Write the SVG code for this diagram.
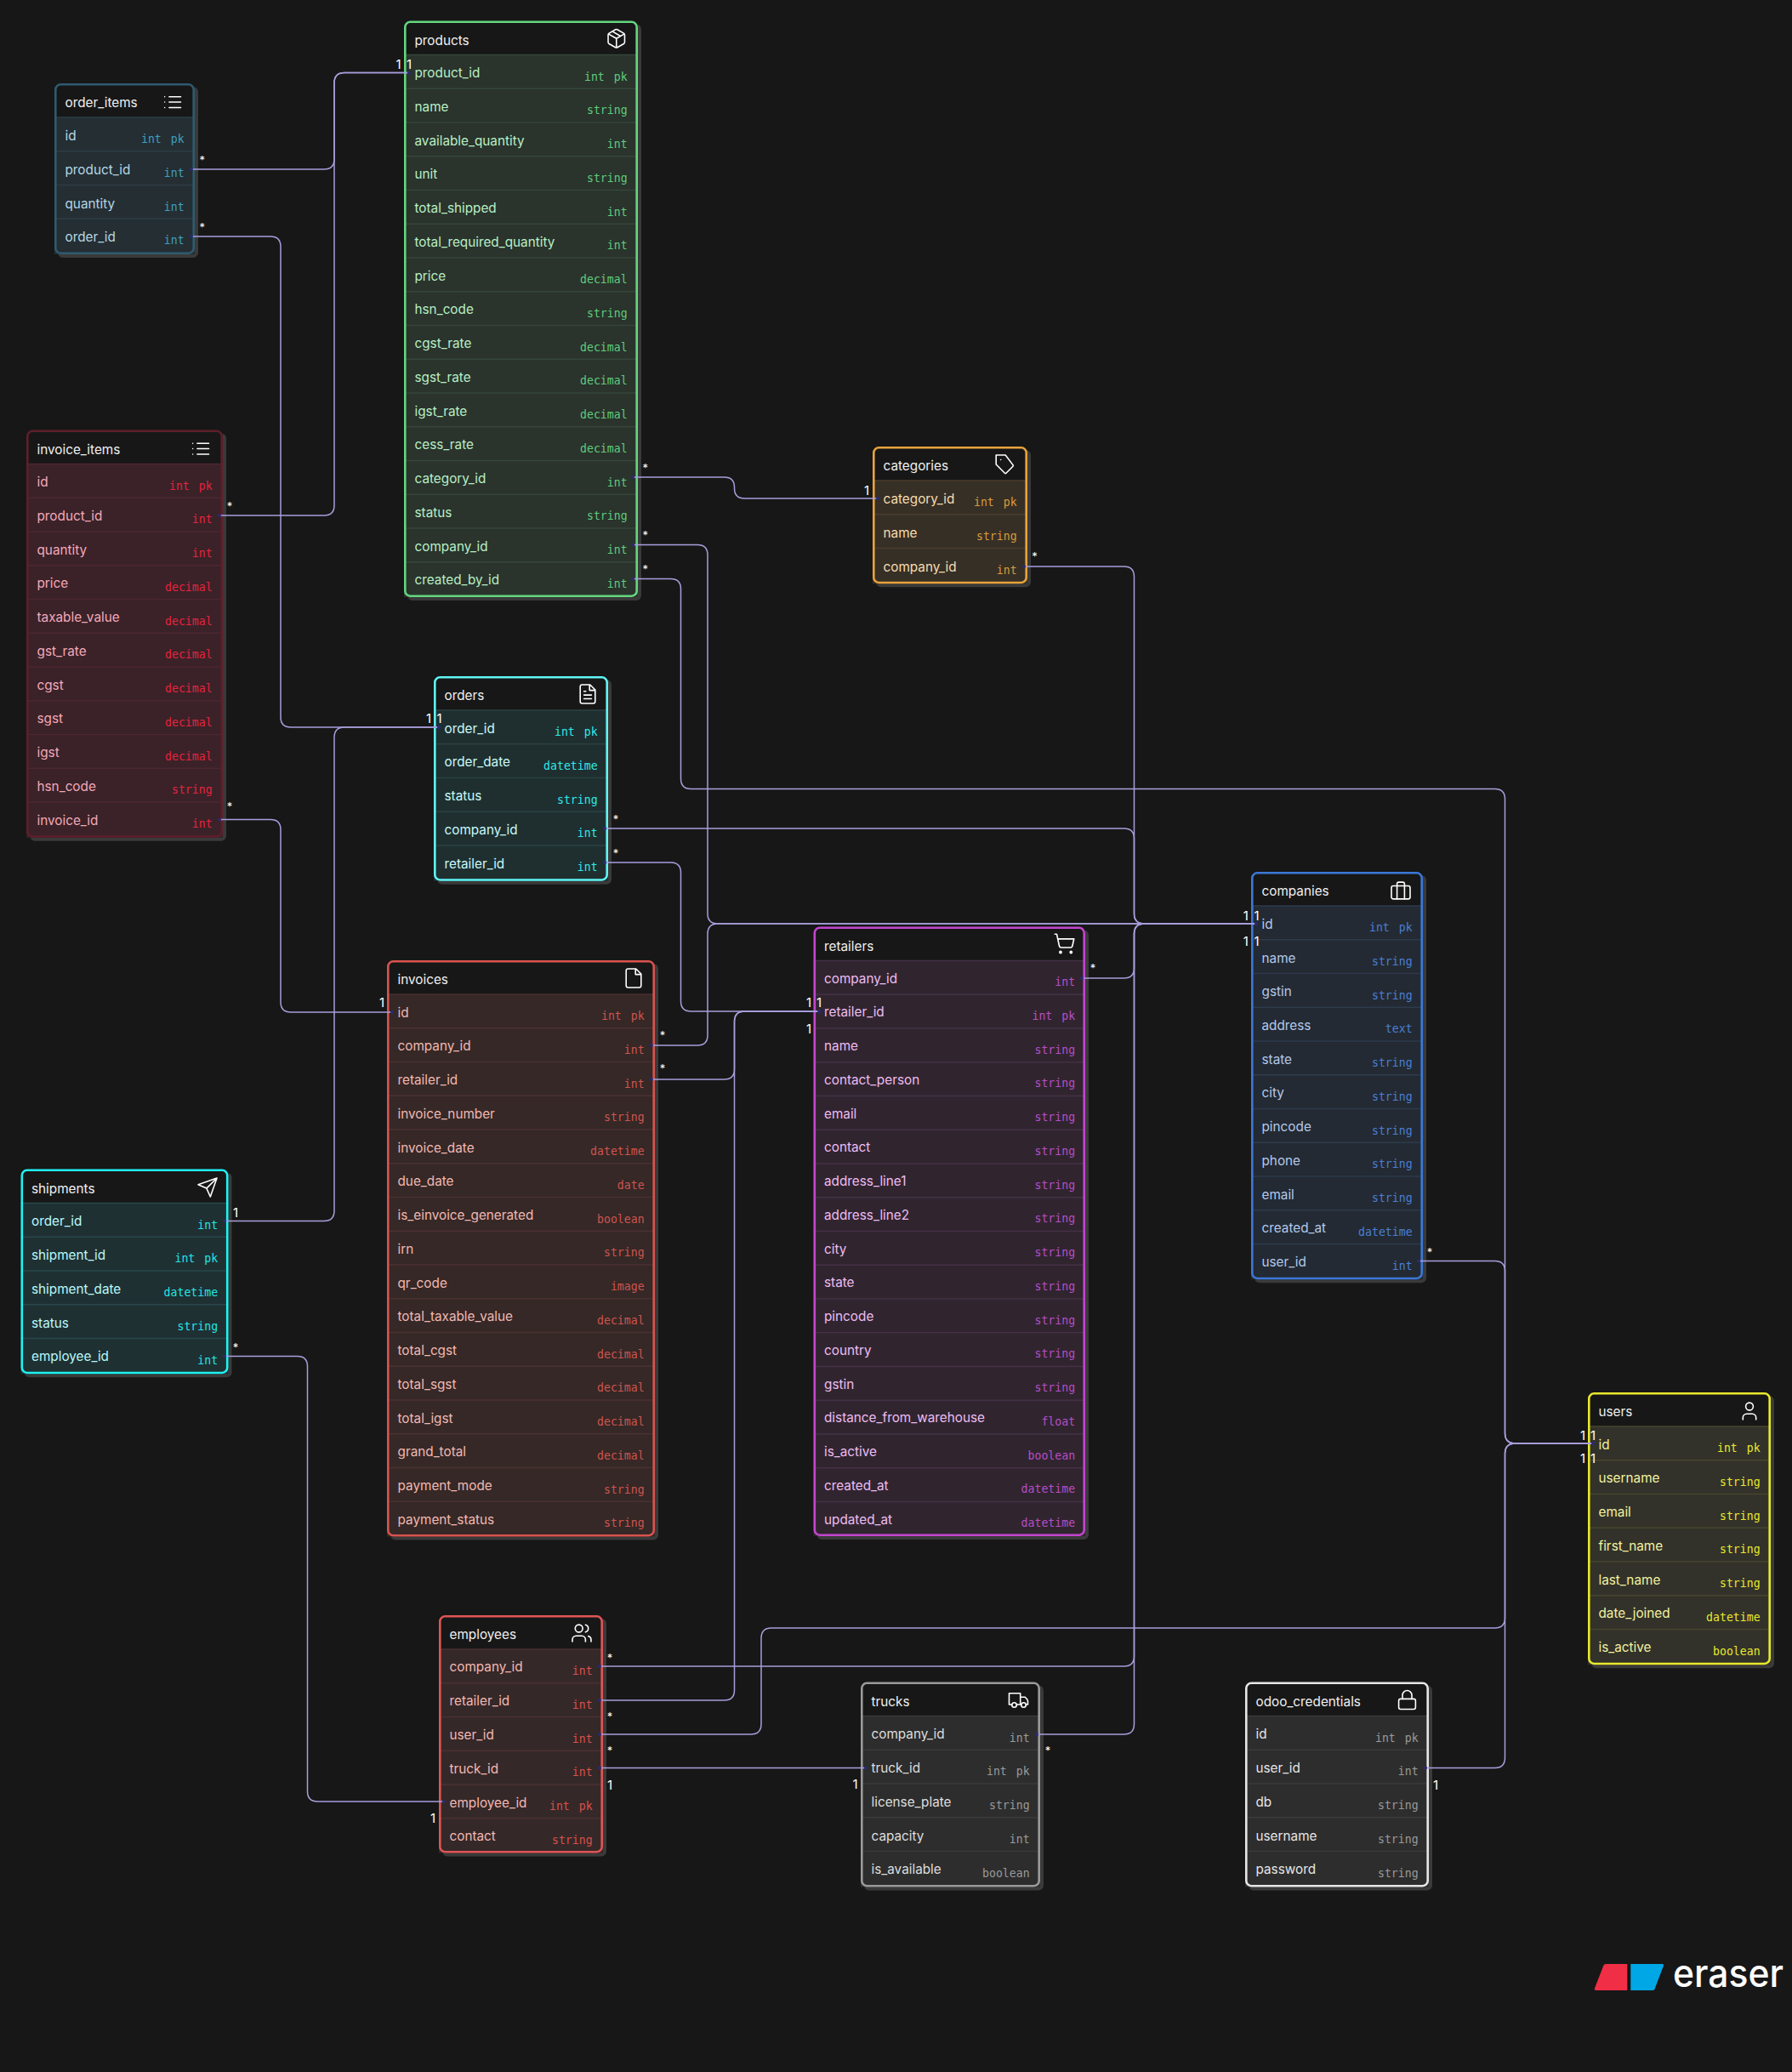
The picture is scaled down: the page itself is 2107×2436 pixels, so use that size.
<svg xmlns="http://www.w3.org/2000/svg" width="2107" height="2436" viewBox="0 0 2107 2436">
<style>
text{font-family:Inter,"Liberation Sans",sans-serif}
.n{font-size:15.300px;fill:var(--n)}
.h{font-size:15.300px;fill:#f0f0f0}
.t{font-family:"DejaVu Sans Mono","Liberation Mono",monospace;font-size:13.200px;fill:var(--t);text-anchor:end;word-spacing:3px;transform:translate(.6px,-.5px)}
.sh{fill:#3a3a3a}
.bg{fill:#171717}
.row{fill:var(--r)}
.sep{stroke:var(--s);stroke-width:1.5;fill:none}
.bd{stroke:var(--b);stroke-width:2.600;fill:none}
.ic{stroke:#fff;stroke-width:1.450;fill:none;stroke-linecap:round;stroke-linejoin:round}
.cn{stroke:#a79fdc;stroke-width:1.5;fill:none;marker-start:url(#dot);marker-end:url(#dot)}
.one{font-size:15px;fill:#fff;text-anchor:middle}
.many{font-size:13px;fill:#fff;text-anchor:middle}
.logo{font-size:45px;font-weight:500;fill:#fff}
.order_items{--b:#2f5b70;--r:#242e33;--s:#2d3c44;--n:#b5d6e3;--t:#3f9fc0}
.invoice_items{--b:#5e1f2b;--r:#3a2228;--s:#4d2630;--n:#f5a8b8;--t:#e6223f}
.products{--b:#63d67f;--r:#2a332c;--s:#354639;--n:#b8efc5;--t:#5fcc7c}
.categories{--b:#e8a33d;--r:#362f26;--s:#4a3d2c;--n:#f6dcb0;--t:#d99a3a}
.orders{--b:#5ff5f5;--r:#1f2f30;--s:#2b4142;--n:#c8fafa;--t:#2fe8e8}
.invoices{--b:#d9534f;--r:#352826;--s:#4a3130;--n:#f1b8b3;--t:#cf5450}
.retailers{--b:#c345d0;--r:#30252f;--s:#443045;--n:#eebcf2;--t:#b84dc6}
.companies{--b:#3b78d8;--r:#232a33;--s:#2d3a4d;--n:#b4c8ea;--t:#4a7fd4}
.users{--b:#e8e82e;--r:#32322a;--s:#46462e;--n:#f2f2a0;--t:#e8e82e}
.shipments{--b:#1ff2f2;--r:#1f3033;--s:#28474a;--n:#b8fafa;--t:#22e6e6}
.employees{--b:#e05555;--r:#352828;--s:#4a3030;--n:#f2b8b4;--t:#d9504c}
.trucks{--b:#9a9a9a;--r:#2d2d2d;--s:#3a3a3a;--n:#dedede;--t:#9a9a9a}
.odoo{--b:#e6e6e6;--r:#2d2d2d;--s:#3a3a3a;--n:#e6e6e6;--t:#9a9a9a}
</style>
<defs>
<marker id="dot" viewBox="0 0 6 6" refX="3" refY="3" markerWidth="4" markerHeight="4" markerUnits="userSpaceOnUse"><circle cx="3" cy="3" r="3" fill="#2b2a70"/></marker>
<path id="i-list" d="M8 6h13M8 12h13M8 18h13M3 6h.01M3 12h.01M3 18h.01"/>
<path id="i-file" d="M14.500 2H6a2 2 0 0 0-2 2v16a2 2 0 0 0 2 2h12a2 2 0 0 0 2-2V7.500L14.500 2zM14 2v6h6"/>
</defs>
<rect width="2107" height="2436" fill="#171717"/>

<g id="order_items" class="order_items" transform="translate(64,98)">
<rect class="sh" x="4" y="4" width="165" height="201" rx="6"/><rect class="bg" width="165" height="201" rx="6"/><path class="row" d="M0 40H165V201H0Z"/>
<path class="sep" d="M0 40H165M0 79.750H165M0 119.500H165M0 159.250H165"/>
<text class="h" x="12.500" y="28">order_items</text>
<text class="n" x="12.500" y="67">id</text><text class="t" x="152" y="70.500">int pk</text>
<text class="n" x="12.500" y="106.750">product_id</text><text class="t" x="152" y="110.250">int</text>
<text class="n" x="12.500" y="146.500">quantity</text><text class="t" x="152" y="150">int</text>
<text class="n" x="12.500" y="186.250">order_id</text><text class="t" x="152" y="189.750">int</text>
<use class="ic" href="#i-list" transform="translate(126.500,9.500) scale(1.05)"/>
<rect class="bd" x="1.300" y="1.300" width="162.400" height="198.400" rx="6"/>
</g>

<g id="invoice_items" class="invoice_items" transform="translate(31,505.500)">
<rect class="sh" x="4" y="4" width="231" height="479.250" rx="6"/><rect class="bg" width="231" height="479.250" rx="6"/><path class="row" d="M0 40H231V479.250H0Z"/>
<path class="sep" d="M0 40H231M0 79.750H231M0 119.500H231M0 159.250H231M0 199H231M0 238.750H231M0 278.500H231M0 318.250H231M0 358H231M0 397.750H231M0 437.500H231"/>
<text class="h" x="12.500" y="28">invoice_items</text>
<text class="n" x="12.500" y="66.500">id</text><text class="t" x="218" y="70.500">int pk</text>
<text class="n" x="12.500" y="106.250">product_id</text><text class="t" x="218" y="110.250">int</text>
<text class="n" x="12.500" y="146">quantity</text><text class="t" x="218" y="150">int</text>
<text class="n" x="12.500" y="185.750">price</text><text class="t" x="218" y="189.750">decimal</text>
<text class="n" x="12.500" y="225.500">taxable_value</text><text class="t" x="218" y="229.500">decimal</text>
<text class="n" x="12.500" y="265.250">gst_rate</text><text class="t" x="218" y="269.250">decimal</text>
<text class="n" x="12.500" y="305">cgst</text><text class="t" x="218" y="309">decimal</text>
<text class="n" x="12.500" y="344.750">sgst</text><text class="t" x="218" y="348.750">decimal</text>
<text class="n" x="12.500" y="384.500">igst</text><text class="t" x="218" y="388.500">decimal</text>
<text class="n" x="12.500" y="424.250">hsn_code</text><text class="t" x="218" y="428.250">string</text>
<text class="n" x="12.500" y="464">invoice_id</text><text class="t" x="218" y="468">int</text>
<use class="ic" href="#i-list" transform="translate(192.500,9.500) scale(1.05)"/>
<rect class="bd" x="1.300" y="1.300" width="228.400" height="476.650" rx="6"/>
</g>

<g id="products" class="products" transform="translate(475,24.500)">
<rect class="sh" x="4" y="4" width="275" height="677.500" rx="6"/><rect class="bg" width="275" height="677.500" rx="6"/><path class="row" d="M0 40H275V677.500H0Z"/>
<path class="sep" d="M0 40H275M0 79.750H275M0 119.500H275M0 159.250H275M0 199H275M0 238.750H275M0 278.500H275M0 318.250H275M0 358H275M0 397.750H275M0 437.500H275M0 477.250H275M0 517H275M0 556.750H275M0 596.500H275M0 636.250H275"/>
<text class="h" x="12.500" y="28">products</text>
<text class="n" x="12.500" y="66.500">product_id</text><text class="t" x="262" y="70.500">int pk</text>
<text class="n" x="12.500" y="106.250">name</text><text class="t" x="262" y="110.250">string</text>
<text class="n" x="12.500" y="146">available_quantity</text><text class="t" x="262" y="150">int</text>
<text class="n" x="12.500" y="185.750">unit</text><text class="t" x="262" y="189.750">string</text>
<text class="n" x="12.500" y="225.500">total_shipped</text><text class="t" x="262" y="229.500">int</text>
<text class="n" x="12.500" y="265.250">total_required_quantity</text><text class="t" x="262" y="269.250">int</text>
<text class="n" x="12.500" y="305">price</text><text class="t" x="262" y="309">decimal</text>
<text class="n" x="12.500" y="344.750">hsn_code</text><text class="t" x="262" y="348.750">string</text>
<text class="n" x="12.500" y="384.500">cgst_rate</text><text class="t" x="262" y="388.500">decimal</text>
<text class="n" x="12.500" y="424.250">sgst_rate</text><text class="t" x="262" y="428.250">decimal</text>
<text class="n" x="12.500" y="464">igst_rate</text><text class="t" x="262" y="468">decimal</text>
<text class="n" x="12.500" y="503.750">cess_rate</text><text class="t" x="262" y="507.750">decimal</text>
<text class="n" x="12.500" y="543.500">category_id</text><text class="t" x="262" y="547.500">int</text>
<text class="n" x="12.500" y="583.250">status</text><text class="t" x="262" y="587.250">string</text>
<text class="n" x="12.500" y="623">company_id</text><text class="t" x="262" y="627">int</text>
<text class="n" x="12.500" y="662.750">created_by_id</text><text class="t" x="262" y="666.750">int</text>
<path class="ic" transform="translate(236.800,7.800) scale(1.08)" d="M21 16V8a2 2 0 0 0-1-1.730l-7-4a2 2 0 0 0-2 0l-7 4A2 2 0 0 0 3 8v8a2 2 0 0 0 1 1.730l7 4a2 2 0 0 0 2 0l7-4A2 2 0 0 0 21 16zM3.300 7 12 12l8.700-5M12 22V12M7.500 4.270l9 5.150"/>
<rect class="bd" x="1.300" y="1.300" width="272.400" height="674.900" rx="6"/>
</g>

<g id="categories" class="categories" transform="translate(1026,525)">
<rect class="sh" x="4" y="4" width="182" height="161.250" rx="6"/><rect class="bg" width="182" height="161.250" rx="6"/><path class="row" d="M0 40H182V161.250H0Z"/>
<path class="sep" d="M0 40H182M0 79.750H182M0 119.500H182"/>
<text class="h" x="12.500" y="28">categories</text>
<text class="n" x="12.500" y="67">category_id</text><text class="t" x="169" y="70.500">int pk</text>
<text class="n" x="12.500" y="106.750">name</text><text class="t" x="169" y="110.250">string</text>
<text class="n" x="12.500" y="146.500">company_id</text><text class="t" x="169" y="150">int</text>
<path class="ic" transform="translate(143,7.800) scale(1.1)" d="M12 2H2v10l9.290 9.290a1 1 0 0 0 1.410 0l7.300-7.300a1 1 0 0 0 0-1.410L12 2zM7 7h.01"/>
<rect class="bd" x="1.300" y="1.300" width="179.400" height="158.650" rx="6"/>
</g>

<g id="orders" class="orders" transform="translate(510,795)">
<rect class="sh" x="4" y="4" width="205" height="240.750" rx="6"/><rect class="bg" width="205" height="240.750" rx="6"/><path class="row" d="M0 40H205V240.750H0Z"/>
<path class="sep" d="M0 40H205M0 79.750H205M0 119.500H205M0 159.250H205M0 199H205"/>
<text class="h" x="12.500" y="28">orders</text>
<text class="n" x="12.500" y="66.500">order_id</text><text class="t" x="192" y="70.500">int pk</text>
<text class="n" x="12.500" y="106.250">order_date</text><text class="t" x="192" y="110.250">datetime</text>
<text class="n" x="12.500" y="146">status</text><text class="t" x="192" y="150">string</text>
<text class="n" x="12.500" y="185.750">company_id</text><text class="t" x="192" y="189.750">int</text>
<text class="n" x="12.500" y="225.500">retailer_id</text><text class="t" x="192" y="229.500">int</text>
<path class="ic" transform="translate(167.800,7.800) scale(1.1)" d="M14.500 2H6a2 2 0 0 0-2 2v16a2 2 0 0 0 2 2h12a2 2 0 0 0 2-2V7.500L14.500 2zM14 2v6h6M16 13H8M16 17H8M10 9H8"/>
<rect class="bd" x="1.300" y="1.300" width="202.400" height="238.150" rx="6"/>
</g>

<g id="invoices" class="invoices" transform="translate(455,1129)">
<rect class="sh" x="4" y="4" width="315" height="677.500" rx="6"/><rect class="bg" width="315" height="677.500" rx="6"/><path class="row" d="M0 40H315V677.500H0Z"/>
<path class="sep" d="M0 40H315M0 79.750H315M0 119.500H315M0 159.250H315M0 199H315M0 238.750H315M0 278.500H315M0 318.250H315M0 358H315M0 397.750H315M0 437.500H315M0 477.250H315M0 517H315M0 556.750H315M0 596.500H315M0 636.250H315"/>
<text class="h" x="12.500" y="28">invoices</text>
<text class="n" x="12.500" y="66.500">id</text><text class="t" x="302" y="70.500">int pk</text>
<text class="n" x="12.500" y="106.250">company_id</text><text class="t" x="302" y="110.250">int</text>
<text class="n" x="12.500" y="146">retailer_id</text><text class="t" x="302" y="150">int</text>
<text class="n" x="12.500" y="185.750">invoice_number</text><text class="t" x="302" y="189.750">string</text>
<text class="n" x="12.500" y="225.500">invoice_date</text><text class="t" x="302" y="229.500">datetime</text>
<text class="n" x="12.500" y="265.250">due_date</text><text class="t" x="302" y="269.250">date</text>
<text class="n" x="12.500" y="305">is_einvoice_generated</text><text class="t" x="302" y="309">boolean</text>
<text class="n" x="12.500" y="344.750">irn</text><text class="t" x="302" y="348.750">string</text>
<text class="n" x="12.500" y="384.500">qr_code</text><text class="t" x="302" y="388.500">image</text>
<text class="n" x="12.500" y="424.250">total_taxable_value</text><text class="t" x="302" y="428.250">decimal</text>
<text class="n" x="12.500" y="464">total_cgst</text><text class="t" x="302" y="468">decimal</text>
<text class="n" x="12.500" y="503.750">total_sgst</text><text class="t" x="302" y="507.750">decimal</text>
<text class="n" x="12.500" y="543.500">total_igst</text><text class="t" x="302" y="547.500">decimal</text>
<text class="n" x="12.500" y="583.250">grand_total</text><text class="t" x="302" y="587.250">decimal</text>
<text class="n" x="12.500" y="623">payment_mode</text><text class="t" x="302" y="627">string</text>
<text class="n" x="12.500" y="662.750">payment_status</text><text class="t" x="302" y="666.750">string</text>
<use class="ic" href="#i-file" transform="translate(276.800,7.800) scale(1.1)"/>
<rect class="bd" x="1.300" y="1.300" width="312.400" height="674.900" rx="6"/>
</g>

<g id="retailers" class="retailers" transform="translate(956.500,1089.500)">
<rect class="sh" x="4" y="4" width="319.500" height="716.500" rx="6"/><rect class="bg" width="319.500" height="716.500" rx="6"/><path class="row" d="M0 40H319.500V716.500H0Z"/>
<path class="sep" d="M0 40H319.500M0 79.750H319.500M0 119.500H319.500M0 159.250H319.500M0 199H319.500M0 238.750H319.500M0 278.500H319.500M0 318.250H319.500M0 358H319.500M0 397.750H319.500M0 437.500H319.500M0 477.250H319.500M0 517H319.500M0 556.750H319.500M0 596.500H319.500M0 636.250H319.500M0 676H319.500"/>
<text class="h" x="12.500" y="28">retailers</text>
<text class="n" x="12.500" y="66">company_id</text><text class="t" x="307" y="70">int</text>
<text class="n" x="12.500" y="105.750">retailer_id</text><text class="t" x="307" y="109.750">int pk</text>
<text class="n" x="12.500" y="145.500">name</text><text class="t" x="307" y="149.500">string</text>
<text class="n" x="12.500" y="185.250">contact_person</text><text class="t" x="307" y="189.250">string</text>
<text class="n" x="12.500" y="225">email</text><text class="t" x="307" y="229">string</text>
<text class="n" x="12.500" y="264.750">contact</text><text class="t" x="307" y="268.750">string</text>
<text class="n" x="12.500" y="304.500">address_line1</text><text class="t" x="307" y="308.500">string</text>
<text class="n" x="12.500" y="344.250">address_line2</text><text class="t" x="307" y="348.250">string</text>
<text class="n" x="12.500" y="384">city</text><text class="t" x="307" y="388">string</text>
<text class="n" x="12.500" y="423.750">state</text><text class="t" x="307" y="427.750">string</text>
<text class="n" x="12.500" y="463.500">pincode</text><text class="t" x="307" y="467.500">string</text>
<text class="n" x="12.500" y="503.250">country</text><text class="t" x="307" y="507.250">string</text>
<text class="n" x="12.500" y="543">gstin</text><text class="t" x="307" y="547">string</text>
<text class="n" x="12.500" y="582.750">distance_from_warehouse</text><text class="t" x="307" y="586.750">float</text>
<text class="n" x="12.500" y="622.500">is_active</text><text class="t" x="307" y="626.500">boolean</text>
<text class="n" x="12.500" y="662.250">created_at</text><text class="t" x="307" y="666.250">datetime</text>
<text class="n" x="12.500" y="702">updated_at</text><text class="t" x="307" y="706">datetime</text>
<g class="ic" transform="translate(281.500,6.500) scale(1.12)"><circle cx="8" cy="21" r="1"/><circle cx="19" cy="21" r="1"/><path d="M2.050 2.050h2l2.660 12.420a2 2 0 0 0 2 1.580h9.780a2 2 0 0 0 1.950-1.570l1.650-7.430H5.120"/></g>
<rect class="bd" x="1.300" y="1.300" width="316.900" height="713.900" rx="6"/>
</g>

<g id="companies" class="companies" transform="translate(1471,1025)">
<rect class="sh" x="4" y="4" width="202" height="479.250" rx="6"/><rect class="bg" width="202" height="479.250" rx="6"/><path class="row" d="M0 40H202V479.250H0Z"/>
<path class="sep" d="M0 40H202M0 79.750H202M0 119.500H202M0 159.250H202M0 199H202M0 238.750H202M0 278.500H202M0 318.250H202M0 358H202M0 397.750H202M0 437.500H202"/>
<text class="h" x="12.500" y="28">companies</text>
<text class="n" x="12.500" y="66.500">id</text><text class="t" x="189" y="70.500">int pk</text>
<text class="n" x="12.500" y="106.500">name</text><text class="t" x="189" y="110.250">string</text>
<text class="n" x="12.500" y="146.250">gstin</text><text class="t" x="189" y="150">string</text>
<text class="n" x="12.500" y="185.750">address</text><text class="t" x="189" y="189.750">text</text>
<text class="n" x="12.500" y="225.500">state</text><text class="t" x="189" y="229.500">string</text>
<text class="n" x="12.500" y="265.250">city</text><text class="t" x="189" y="269.250">string</text>
<text class="n" x="12.500" y="305">pincode</text><text class="t" x="189" y="309">string</text>
<text class="n" x="12.500" y="344.750">phone</text><text class="t" x="189" y="348.750">string</text>
<text class="n" x="12.500" y="384.500">email</text><text class="t" x="189" y="388.500">string</text>
<text class="n" x="12.500" y="424.250">created_at</text><text class="t" x="189" y="428.250">datetime</text>
<text class="n" x="12.500" y="464">user_id</text><text class="t" x="189" y="468">int</text>
<g class="ic" transform="translate(162.800,8.800) scale(1.1)"><rect x="2" y="7" width="20" height="14" rx="2"/><path d="M16 21V5a2 2 0 0 0-2-2h-4a2 2 0 0 0-2 2v16"/></g>
<rect class="bd" x="1.300" y="1.300" width="199.400" height="476.650" rx="6"/>
</g>

<g id="users" class="users" transform="translate(1867,1637)">
<rect class="sh" x="4" y="4" width="215" height="320.250" rx="6"/><rect class="bg" width="215" height="320.250" rx="6"/><path class="row" d="M0 40H215V320.250H0Z"/>
<path class="sep" d="M0 40H215M0 79.750H215M0 119.500H215M0 159.250H215M0 199H215M0 238.750H215M0 278.500H215"/>
<text class="h" x="12.500" y="28">users</text>
<text class="n" x="12.500" y="66.500">id</text><text class="t" x="202" y="70.500">int pk</text>
<text class="n" x="12.500" y="106.250">username</text><text class="t" x="202" y="110.250">string</text>
<text class="n" x="12.500" y="146">email</text><text class="t" x="202" y="150">string</text>
<text class="n" x="12.500" y="185.750">first_name</text><text class="t" x="202" y="189.750">string</text>
<text class="n" x="12.500" y="225.500">last_name</text><text class="t" x="202" y="229.500">string</text>
<text class="n" x="12.500" y="265.250">date_joined</text><text class="t" x="202" y="269.250">datetime</text>
<text class="n" x="12.500" y="305">is_active</text><text class="t" x="202" y="309">boolean</text>
<g class="ic" transform="translate(176.800,8.800) scale(1.1)"><path d="M19 21v-2a4 4 0 0 0-4-4H9a4 4 0 0 0-4 4v2"/><circle cx="12" cy="7" r="4"/></g>
<rect class="bd" x="1.300" y="1.300" width="212.400" height="317.650" rx="6"/>
</g>

<g id="shipments" class="shipments" transform="translate(24.500,1374.500)">
<rect class="sh" x="4" y="4" width="244" height="240.750" rx="6"/><rect class="bg" width="244" height="240.750" rx="6"/><path class="row" d="M0 40H244V240.750H0Z"/>
<path class="sep" d="M0 40H244M0 79.750H244M0 119.500H244M0 159.250H244M0 199H244"/>
<text class="h" x="12.500" y="28">shipments</text>
<text class="n" x="12.500" y="66.500">order_id</text><text class="t" x="231" y="70.500">int</text>
<text class="n" x="12.500" y="106.250">shipment_id</text><text class="t" x="231" y="110.250">int pk</text>
<text class="n" x="12.500" y="146">shipment_date</text><text class="t" x="231" y="150">datetime</text>
<text class="n" x="12.500" y="186">status</text><text class="t" x="231" y="189.750">string</text>
<text class="n" x="12.500" y="225.750">employee_id</text><text class="t" x="231" y="229.500">int</text>
<path class="ic" transform="translate(206.300,8.300) scale(1.1)" d="M22 2 11 13M22 2l-7 20-4-9-9-4 20-7z"/>
<rect class="bd" x="1.300" y="1.300" width="241.400" height="238.150" rx="6"/>
</g>

<g id="employees" class="employees" transform="translate(516,1899)">
<rect class="sh" x="4" y="4" width="193" height="279.500" rx="6"/><rect class="bg" width="193" height="279.500" rx="6"/><path class="row" d="M0 40H193V279.500H0Z"/>
<path class="sep" d="M0 40H193M0 79.750H193M0 119.500H193M0 159.250H193M0 199H193M0 238.750H193"/>
<text class="h" x="12.500" y="28">employees</text>
<text class="n" x="12.500" y="66">company_id</text><text class="t" x="180" y="70">int</text>
<text class="n" x="12.500" y="106.250">retailer_id</text><text class="t" x="180" y="110.250">int</text>
<text class="n" x="12.500" y="146">user_id</text><text class="t" x="180" y="150">int</text>
<text class="n" x="12.500" y="185.750">truck_id</text><text class="t" x="180" y="189.750">int</text>
<text class="n" x="12.500" y="225.500">employee_id</text><text class="t" x="180" y="229.500">int pk</text>
<text class="n" x="12.500" y="265.250">contact</text><text class="t" x="180" y="269.250">string</text>
<g class="ic" transform="translate(154.800,7.800) scale(1.1)"><path d="M16 21v-2a4 4 0 0 0-4-4H6a4 4 0 0 0-4 4v2M22 21v-2a4 4 0 0 0-3-3.870M16 3.130a4 4 0 0 1 0 7.750"/><circle cx="9" cy="7" r="4"/></g>
<rect class="bd" x="1.300" y="1.300" width="190.400" height="276.900" rx="6"/>
</g>

<g id="trucks" class="trucks" transform="translate(1012,1977.500)">
<rect class="sh" x="4" y="4" width="211" height="241" rx="6"/><rect class="bg" width="211" height="241" rx="6"/><path class="row" d="M0 40H211V241H0Z"/>
<path class="sep" d="M0 40H211M0 79.750H211M0 119.500H211M0 159.250H211M0 199H211"/>
<text class="h" x="12.500" y="28">trucks</text>
<text class="n" x="12.500" y="66.750">company_id</text><text class="t" x="198" y="70.500">int</text>
<text class="n" x="12.500" y="106.500">truck_id</text><text class="t" x="198" y="110.250">int pk</text>
<text class="n" x="12.500" y="146">license_plate</text><text class="t" x="198" y="150">string</text>
<text class="n" x="12.500" y="186">capacity</text><text class="t" x="198" y="189.750">int</text>
<text class="n" x="12.500" y="225.500">is_available</text><text class="t" x="198" y="229.500">boolean</text>
<g class="ic" transform="translate(172.300,7.800) scale(1.1)"><path d="M10 17h4V5H2v12h3M20 17h2v-3.340a4 4 0 0 0-1.170-2.830L19 9h-5M14 17h1"/><circle cx="7.500" cy="17.500" r="2.500"/><circle cx="17.500" cy="17.500" r="2.500"/></g>
<rect class="bd" x="1.300" y="1.300" width="208.400" height="238.400" rx="6"/>
</g>

<g id="odoo_credentials" class="odoo" transform="translate(1464,1977.500)">
<rect class="sh" x="4" y="4" width="216" height="241" rx="6"/><rect class="bg" width="216" height="241" rx="6"/><path class="row" d="M0 40H216V241H0Z"/>
<path class="sep" d="M0 40H216M0 79.750H216M0 119.500H216M0 159.250H216M0 199H216"/>
<text class="h" x="12.500" y="28">odoo_credentials</text>
<text class="n" x="12.500" y="66.750">id</text><text class="t" x="203" y="70.500">int pk</text>
<text class="n" x="12.500" y="106.500">user_id</text><text class="t" x="203" y="110.250">int</text>
<text class="n" x="12.500" y="146">db</text><text class="t" x="203" y="150">string</text>
<text class="n" x="12.500" y="186">username</text><text class="t" x="203" y="189.750">string</text>
<text class="n" x="12.500" y="225.500">password</text><text class="t" x="203" y="229.500">string</text>
<g class="ic" transform="translate(177.300,7.800) scale(1.1)"><rect x="3" y="11" width="18" height="11" rx="2"/><path d="M7 11V7a5 5 0 0 1 10 0v4"/></g>
<rect class="bd" x="1.300" y="1.300" width="213.400" height="238.400" rx="6"/>
</g>

<g id="connectors">
<path class="cn" d="M225 199H381Q393 199 393 187V97.500Q393 85.500 405 85.500H481"/>
<path class="cn" d="M258 606H381Q393 606 393 594V97.500Q393 85.500 405 85.500H481"/>
<path class="cn" d="M225 278H318Q330 278 330 290V843Q330 855 342 855H516"/>
<path class="cn" d="M264 1435.500H381Q393 1435.500 393 1423.500V867Q393 855 405 855H516"/>
<path class="cn" d="M744 561H851.500Q863.500 561 863.500 573V574Q863.500 586 875.500 586H1032"/>
<path class="cn" d="M744 640.500H820Q832 640.500 832 652.500V1074Q832 1086 844 1086H1477"/>
<path class="cn" d="M744 680.500H788.500Q800.500 680.500 800.500 692.500V915.500Q800.500 927.500 812.500 927.500H1757.500Q1769.500 927.500 1769.500 939.500V1685Q1769.500 1697 1781.500 1697H1873"/>
<path class="cn" d="M1204 666H1321.500Q1333.500 666 1333.500 678V1074Q1333.500 1086 1345.500 1086H1477"/>
<path class="cn" d="M711 974H1321.500Q1333.500 974 1333.500 986V1074Q1333.500 1086 1345.500 1086H1477"/>
<path class="cn" d="M711 1014H788.500Q800.500 1014 800.500 1026V1177Q800.500 1189 812.500 1189H963"/>
<path class="cn" d="M258 963.500H318Q330 963.500 330 975.500V1178Q330 1190 342 1190H461"/>
<path class="cn" d="M766 1229H820Q832 1229 832 1217V1098Q832 1086 844 1086H1477"/>
<path class="cn" d="M766 1269H851.500Q863.500 1269 863.500 1257V1201Q863.500 1189 875.500 1189H963"/>
<path class="cn" d="M1272 1150H1321.500Q1333.500 1150 1333.500 1138V1098Q1333.500 1086 1345.500 1086H1477"/>
<path class="cn" d="M705 1959H1321.500Q1333.500 1959 1333.500 1947V1098Q1333.500 1086 1345.500 1086H1477"/>
<path class="cn" d="M705 1999H851.500Q863.500 1999 863.500 1987V1201Q863.500 1189 875.500 1189H963"/>
<path class="cn" d="M705 2039H883Q895 2039 895 2027V1926Q895 1914 907 1914H1757.500Q1769.500 1914 1769.500 1902V1709Q1769.500 1697 1781.500 1697H1873"/>
<path class="cn" d="M705 2078.500H1018"/>
<path class="cn" d="M264 1594.500H349.500Q361.500 1594.500 361.500 1606.500V2106Q361.500 2118 373.500 2118H522"/>
<path class="cn" d="M1219 2039H1321.500Q1333.500 2039 1333.500 2027V1098Q1333.500 1086 1345.500 1086H1477"/>
<path class="cn" d="M1676 2078.500H1757.500Q1769.500 2078.500 1769.500 2066.500V1709Q1769.500 1697 1781.500 1697H1873"/>
<path class="cn" d="M1668 1482.500H1757.500Q1769.500 1482.500 1769.500 1494.500V1685Q1769.500 1697 1781.500 1697H1873"/>
<text class="one" x="468.500" y="80.500">1</text><text class="one" x="481" y="80.500">1</text>
<text class="many" x="237.700" y="193">*</text><text class="many" x="237.700" y="272">*</text><text class="many" x="270" y="600">*</text><text class="many" x="270" y="953">*</text>
<text class="many" x="758.700" y="555">*</text><text class="many" x="758.700" y="634">*</text><text class="many" x="758.700" y="674">*</text>
<text class="one" x="1019" y="581.500">1</text><text class="many" x="1216.500" y="659">*</text>
<text class="one" x="504" y="849.500">1</text><text class="one" x="516.500" y="849.500">1</text>
<text class="many" x="724" y="968">*</text><text class="many" x="724" y="1008">*</text>
<text class="one" x="449" y="1184">1</text><text class="many" x="779" y="1222">*</text><text class="many" x="779" y="1261">*</text>
<text class="one" x="951" y="1184">1</text><text class="one" x="963" y="1184">1</text><text class="one" x="951" y="1214.500">1</text><text class="many" x="1285" y="1143">*</text>
<text class="one" x="1464.700" y="1081.500">1</text><text class="one" x="1477.500" y="1081.500">1</text><text class="one" x="1464.700" y="1111.500">1</text><text class="one" x="1477.500" y="1111.500">1</text><text class="many" x="1681" y="1476.500">*</text>
<text class="one" x="1861" y="1692.500">1</text><text class="one" x="1873" y="1692.500">1</text><text class="one" x="1861" y="1720">1</text><text class="one" x="1873" y="1720">1</text>
<text class="one" x="277" y="1430.500">1</text><text class="many" x="277" y="1589">*</text>
<text class="many" x="717" y="1954">*</text><text class="many" x="717" y="2023">*</text><text class="many" x="717" y="2063">*</text><text class="one" x="717" y="2103.500">1</text><text class="one" x="509" y="2143">1</text>
<text class="many" x="1232" y="2062.500">*</text><text class="one" x="1005.500" y="2103">1</text><text class="one" x="1688" y="2103.500">1</text>
</g>

<g id="logo">
<path d="M1875 2337.500 1885.500 2310.500Q1886.200 2309 1888 2309H1913.300V2340H1877Q1874 2340 1875 2337.500Z" fill="#f02e45"/>
<path d="M1917.300 2309H1954.500Q1956.500 2309 1956 2311L1945.500 2338.500Q1945 2340 1943 2340H1917.300Z" fill="#00a7e6"/>
<text class="logo" x="1967" y="2336" textLength="130" lengthAdjust="spacingAndGlyphs">eraser</text>
</g>
</svg>
